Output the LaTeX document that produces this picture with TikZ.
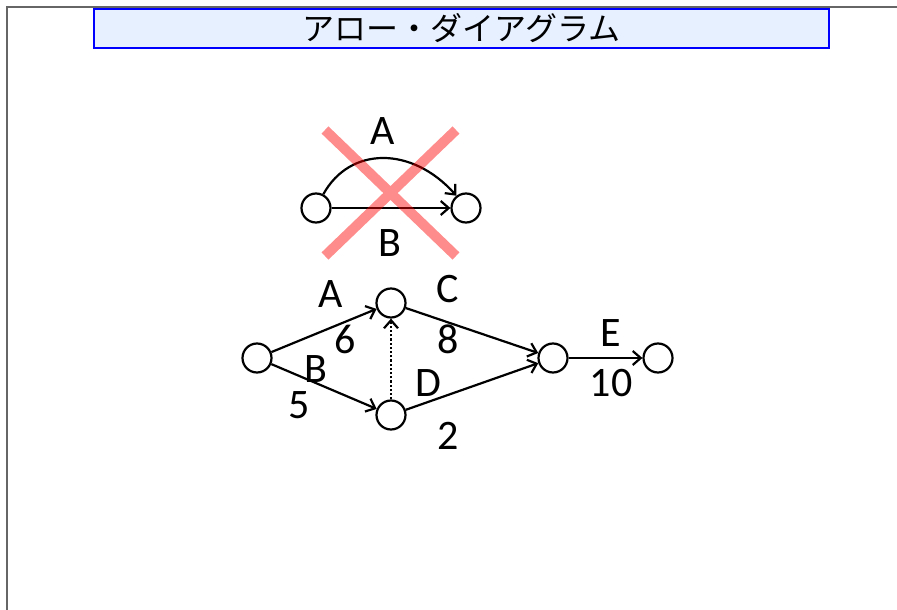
\documentclass[tikz,border=0pt]{standalone}
\usepackage{fontspec}
\setmainfont{Carlito}
\newfontfamily\jpfont{Noto Sans CJK JP}
\usepackage{tikz}
\usetikzlibrary{arrows.meta, positioning}
\definecolor{titlefill}{HTML}{E6F0FF}
\tikzset{
  event/.style={circle, draw, line width=2.2pt, minimum size=29pt, inner sep=0pt},
  act/.style={line width=2.2pt, -{Straight Barb[length=8pt, width=14pt, line width=2.2pt]}},
  lbl/.style={font=\fontsize{42}{44}\selectfont, inner sep=0pt},
  cross/.style={line width=10pt, red, opacity=0.45},
  title/.style={draw=blue, line width=2.2pt, fill=titlefill, minimum width=735pt, minimum height=39pt, font=\jpfont\fontsize{32}{34}\selectfont}
}
\begin{document}
\begin{tikzpicture}[x=1pt, y=-1pt]
  \useasboundingbox (0,0) rectangle (897,610);
  % page frame
  \draw[gray!80!black, line width=1.6pt] (7,610) -- (7,7) -- (897,7);
  \node[title] (ttl) at (461.5,28.5) {アロー・ダイアグラム};

  % Wrong: two activities between the same events
  \node[event] (p) at (316,208) {};
  \node[event] (q) at (466,208) {};
  \draw[act] (p.62) .. controls (350,146) and (412,146) .. (q.128);
  \draw[act] (p) -- (q);
  \node[lbl] (la) at (383,131) {A};
  \node[lbl] (lb) at (390,243) {B};
  \coordinate (x1) at (325,130);
  \coordinate (x2) at (456,256);
  \coordinate (x3) at (456,130);
  \coordinate (x4) at (325,256);
  \draw[cross] (x1) -- (x2) (x3) -- (x4);

  % Right: dummy activity
  \node[event] (n1) at (257,358) {};
  \node[event] (n2) at (391,303) {};
  \node[event] (n3) at (391,415) {};
  \node[event] (n4) at (553,358) {};
  \node[event] (n5) at (658,358) {};

  \draw[act] (n1) -- (n2);
  \draw[act] (n1) -- (n3);
  \draw[act] (n2) -- (n4);
  \draw[act] (n3) -- (n4);
  \draw[act] (n4) -- (n5);
  \draw[act, dotted] (n3) -- (n2);

  \node[lbl] (ta) at (331,294) {A};
  \node[lbl] (da) at (345,339) {6};
  \node[lbl] (tb) at (316,369) {B};
  \node[lbl] (db) at (299,405) {5};
  \node[lbl] (tc) at (448,289) {C};
  \node[lbl] (dc) at (448,339) {8};
  \node[lbl] (td) at (428,383) {D};
  \node[lbl] (dd) at (448,436) {2};
  \node[lbl] (te) at (611,333) {E};
  \node[lbl] (de) at (611,383) {10};
\end{tikzpicture}
\end{document}
